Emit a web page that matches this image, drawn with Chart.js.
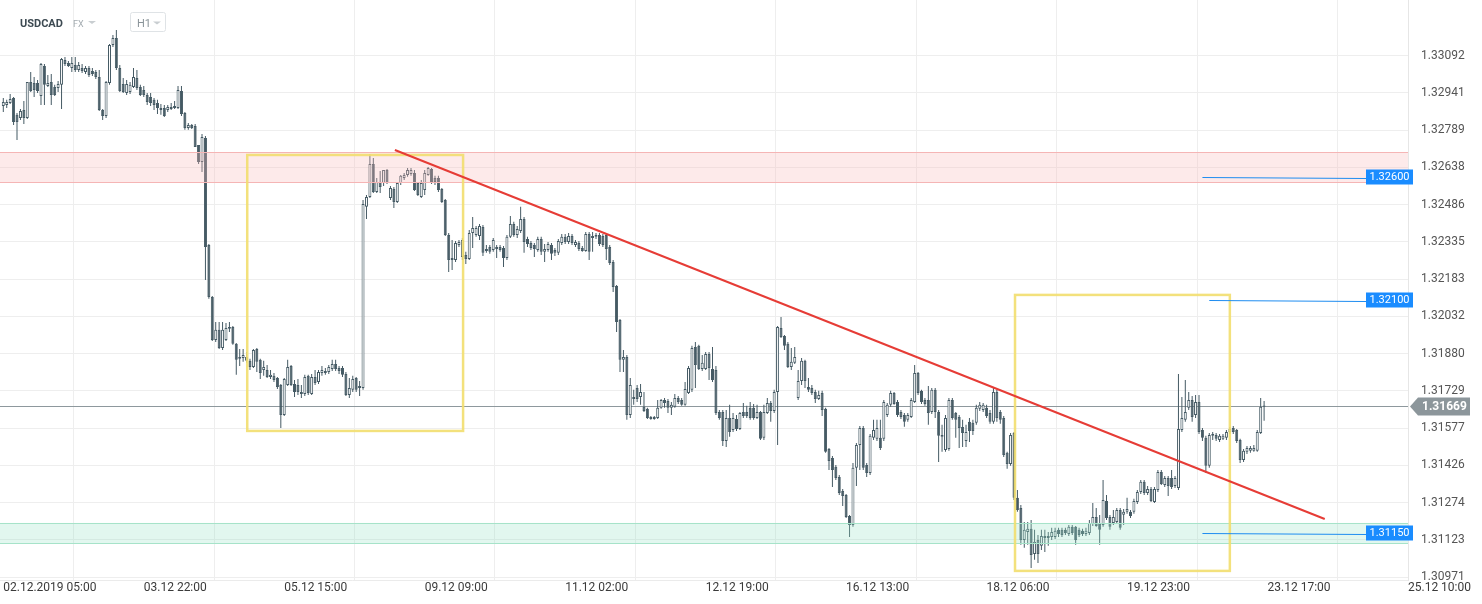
<!DOCTYPE html>
<html><head><meta charset="utf-8">
<script src="https://cdn.jsdelivr.net/npm/chart.js@4.4.0/dist/chart.umd.min.js"></script>
<style>html,body{margin:0;padding:0;background:#fff;}#wrap{width:1482px;height:604px;position:relative;}</style>
</head><body><div id="wrap"><canvas id="c" width="1482" height="604"></canvas></div>
<script>
// ---- data ----
const xTickIndex = [0,41,82,123,164,205,246,287,328,369,410];
const xTickLabels = ['02.12.2019 05:00','03.12 22:00','05.12 15:00','09.12 09:00','11.12 02:00','12.12 19:00','16.12 13:00','18.12 06:00','19.12 23:00','23.12 17:00','25.12 10:00'];
const yTickValues = [1.30971,1.31123,1.31274,1.31426,1.31577,1.31729,1.31880,1.32032,1.32183,1.32335,1.32486,1.32638,1.32789,1.32941,1.33092];

const openP = [
1.32887,1.32891,1.32899,1.32920,1.32851,1.32838,1.32871,1.32838,1.32985,1.32981,
1.32981,1.32928,1.33050,1.32968,1.32985,1.32964,1.32960,1.32973,1.33074,1.33062,
1.33042,1.33054,1.33033,1.33042,1.33025,1.33042,1.33029,1.33025,1.33005,1.32871,
1.32846,1.32981,1.33135,1.33164,1.33042,1.32977,1.32940,1.32944,1.32964,1.33001,
1.32964,1.32952,1.32932,1.32924,1.32912,1.32899,1.32871,1.32879,1.32871,1.32875,
1.32879,1.32879,1.32948,1.32859,1.32798,1.32810,1.32806,1.32729,1.32659,1.32757,
1.32322,1.32111,1.31936,1.31977,1.31903,1.31936,1.31981,1.31989,1.31920,1.31859,
1.31863,1.31867,1.31851,1.31826,1.31899,1.31855,1.31814,1.31814,1.31785,1.31790,
1.31781,1.31753,1.31631,1.31753,1.31830,1.31757,1.31753,1.31724,1.31716,1.31790,
1.31716,1.31785,1.31765,1.31802,1.31802,1.31806,1.31818,1.31838,1.31822,1.31822,
1.31798,1.31712,1.31733,1.31781,1.31741,1.31741,1.32477,1.32517,1.32651,1.32537,
1.32578,1.32574,1.32627,1.32513,1.32550,1.32497,1.32574,1.32594,1.32607,1.32611,
1.32615,1.32574,1.32517,1.32546,1.32607,1.32631,1.32594,1.32594,1.32550,1.32505,
1.32363,1.32261,1.32261,1.32322,1.32273,1.32281,1.32265,1.32371,1.32363,1.32359,
1.32395,1.32298,1.32314,1.32302,1.32314,1.32314,1.32310,1.32269,1.32355,1.32407,
1.32363,1.32379,1.32428,1.32346,1.32330,1.32322,1.32302,1.32346,1.32294,1.32302,
1.32322,1.32302,1.32290,1.32330,1.32355,1.32334,1.32359,1.32322,1.32330,1.32310,
1.32298,1.32367,1.32350,1.32355,1.32363,1.32359,1.32363,1.32314,1.32253,1.32155,
1.32017,1.31855,1.31867,1.31631,1.31696,1.31741,1.31704,1.31664,1.31656,1.31623,
1.31615,1.31619,1.31660,1.31692,1.31688,1.31660,1.31664,1.31700,1.31692,1.31672,
1.31720,1.31733,1.31907,1.31912,1.31818,1.31818,1.31879,1.31818,1.31814,1.31643,
1.31643,1.31525,1.31619,1.31570,1.31615,1.31574,1.31643,1.31643,1.31660,1.31660,
1.31619,1.31643,1.31538,1.31639,1.31680,1.31647,1.31724,1.31985,1.31952,1.31920,
1.31826,1.31843,1.31700,1.31769,1.31851,1.31745,1.31741,1.31724,1.31696,1.31720,
1.31656,1.31493,1.31456,1.31420,1.31379,1.31322,1.31306,1.31220,1.31184,1.31416,
1.31509,1.31578,1.31428,1.31395,1.31538,1.31534,1.31538,1.31534,1.31631,1.31672,
1.31720,1.31684,1.31643,1.31631,1.31611,1.31623,1.31684,1.31802,1.31729,1.31692,
1.31692,1.31643,1.31733,1.31643,1.31550,1.31489,1.31493,1.31692,1.31639,1.31623,
1.31582,1.31525,1.31603,1.31599,1.31599,1.31656,1.31651,1.31660,1.31639,1.31603,
1.31724,1.31643,1.31619,1.31477,1.31432,1.31558,1.31294,1.31253,1.31123,1.31155,
1.31168,1.31066,1.31123,1.31099,1.31131,1.31131,1.31135,1.31135,1.31164,1.31164,
1.31164,1.31147,1.31176,1.31176,1.31164,1.31160,1.31147,1.31151,1.31188,1.31216,
1.31188,1.31184,1.31281,1.31216,1.31192,1.31196,1.31245,1.31225,1.31237,1.31237,
1.31237,1.31277,1.31318,1.31359,1.31314,1.31330,1.31277,1.31326,1.31399,1.31346,
1.31375,1.31375,1.31342,1.31334,1.31570,1.31611,1.31660,1.31692,1.31631,1.31684,
1.31570,1.31538,1.31424,1.31546,1.31550,1.31529,1.31534,1.31538,1.31562,1.31578,
1.31570,1.31529,1.31448,1.31481,1.31485,1.31485,1.31485,1.31558,1.31664];

const highP = [
1.32920,1.32912,1.32936,1.32924,1.32859,1.32875,1.32907,1.32985,1.33025,1.33005,
1.32993,1.33062,1.33058,1.33013,1.33017,1.32973,1.32989,1.33082,1.33086,1.33070,
1.33086,1.33086,1.33066,1.33058,1.33050,1.33050,1.33042,1.33033,1.33033,1.32875,
1.32989,1.33139,1.33176,1.33196,1.33054,1.33001,1.32993,1.32985,1.33042,1.33033,
1.32973,1.32968,1.32940,1.32940,1.32920,1.32912,1.32895,1.32891,1.32891,1.32899,
1.32907,1.32968,1.32968,1.32863,1.32818,1.32814,1.32814,1.32729,1.32773,1.32765,
1.32326,1.32115,1.32009,1.32009,1.32009,1.32005,1.32009,1.31993,1.31924,1.31899,
1.31899,1.31887,1.31859,1.31899,1.31903,1.31859,1.31851,1.31834,1.31814,1.31802,
1.31785,1.31757,1.31781,1.31855,1.31834,1.31773,1.31777,1.31753,1.31794,1.31794,
1.31798,1.31814,1.31814,1.31830,1.31822,1.31834,1.31855,1.31855,1.31830,1.31830,
1.31806,1.31781,1.31790,1.31785,1.31769,1.32505,1.32525,1.32692,1.32676,1.32594,
1.32623,1.32627,1.32631,1.32562,1.32558,1.32578,1.32607,1.32615,1.32635,1.32635,
1.32627,1.32578,1.32586,1.32627,1.32639,1.32635,1.32603,1.32603,1.32554,1.32509,
1.32371,1.32342,1.32338,1.32342,1.32350,1.32294,1.32383,1.32436,1.32399,1.32407,
1.32403,1.32322,1.32322,1.32350,1.32322,1.32322,1.32318,1.32363,1.32440,1.32416,
1.32399,1.32477,1.32436,1.32355,1.32338,1.32330,1.32355,1.32355,1.32326,1.32334,
1.32330,1.32310,1.32346,1.32367,1.32367,1.32371,1.32367,1.32342,1.32338,1.32318,
1.32375,1.32375,1.32375,1.32371,1.32371,1.32367,1.32371,1.32322,1.32261,1.32159,
1.32021,1.31895,1.31875,1.31781,1.31733,1.31753,1.31757,1.31724,1.31660,1.31627,
1.31627,1.31692,1.31696,1.31700,1.31696,1.31684,1.31716,1.31708,1.31700,1.31765,
1.31830,1.31912,1.31928,1.31916,1.31875,1.31887,1.31887,1.31907,1.31830,1.31651,
1.31651,1.31651,1.31672,1.31639,1.31631,1.31643,1.31680,1.31668,1.31684,1.31676,
1.31672,1.31647,1.31672,1.31700,1.31688,1.31733,1.31993,1.32029,1.31956,1.31928,
1.31903,1.31907,1.31814,1.31863,1.31855,1.31781,1.31753,1.31733,1.31729,1.31729,
1.31660,1.31497,1.31464,1.31428,1.31387,1.31330,1.31310,1.31224,1.31436,1.31517,
1.31586,1.31586,1.31436,1.31554,1.31611,1.31611,1.31611,1.31692,1.31680,1.31729,
1.31724,1.31692,1.31651,1.31639,1.31639,1.31700,1.31834,1.31806,1.31733,1.31700,
1.31749,1.31741,1.31741,1.31651,1.31591,1.31631,1.31700,1.31700,1.31643,1.31631,
1.31611,1.31591,1.31619,1.31611,1.31672,1.31684,1.31680,1.31672,1.31651,1.31741,
1.31733,1.31651,1.31627,1.31481,1.31558,1.31562,1.31326,1.31265,1.31196,1.31196,
1.31204,1.31164,1.31143,1.31164,1.31164,1.31155,1.31172,1.31172,1.31172,1.31172,
1.31172,1.31184,1.31184,1.31180,1.31172,1.31168,1.31172,1.31204,1.31273,1.31253,
1.31224,1.31367,1.31306,1.31224,1.31245,1.31253,1.31253,1.31249,1.31294,1.31245,
1.31290,1.31326,1.31367,1.31367,1.31342,1.31338,1.31338,1.31407,1.31407,1.31383,
1.31383,1.31407,1.31383,1.31798,1.31704,1.31773,1.31724,1.31708,1.31712,1.31712,
1.31578,1.31546,1.31558,1.31562,1.31558,1.31554,1.31554,1.31570,1.31582,1.31586,
1.31574,1.31534,1.31493,1.31505,1.31505,1.31509,1.31570,1.31700,1.31688];

const lowP = [
1.32863,1.32879,1.32895,1.32810,1.32749,1.32830,1.32814,1.32834,1.32944,1.32924,
1.32940,1.32891,1.32891,1.32964,1.32891,1.32928,1.32944,1.32875,1.33050,1.33046,
1.33025,1.33025,1.33025,1.33021,1.33017,1.33005,1.33009,1.32997,1.32867,1.32830,
1.32838,1.32973,1.33127,1.33033,1.32944,1.32940,1.32932,1.32936,1.32960,1.32952,
1.32928,1.32924,1.32891,1.32887,1.32871,1.32855,1.32851,1.32842,1.32863,1.32871,
1.32875,1.32875,1.32846,1.32790,1.32790,1.32794,1.32720,1.32651,1.32619,1.32180,
1.32103,1.31932,1.31928,1.31899,1.31895,1.31932,1.31968,1.31916,1.31794,1.31830,
1.31847,1.31843,1.31814,1.31822,1.31806,1.31777,1.31790,1.31781,1.31777,1.31765,
1.31737,1.31578,1.31627,1.31749,1.31749,1.31704,1.31712,1.31700,1.31708,1.31712,
1.31712,1.31753,1.31757,1.31790,1.31794,1.31798,1.31810,1.31810,1.31798,1.31785,
1.31708,1.31700,1.31724,1.31724,1.31708,1.31733,1.32428,1.32513,1.32533,1.32533,
1.32533,1.32562,1.32570,1.32505,1.32472,1.32493,1.32566,1.32586,1.32599,1.32603,
1.32541,1.32521,1.32513,1.32525,1.32603,1.32570,1.32566,1.32537,1.32493,1.32359,
1.32212,1.32220,1.32253,1.32314,1.32261,1.32245,1.32261,1.32310,1.32355,1.32342,
1.32277,1.32290,1.32286,1.32294,1.32269,1.32294,1.32233,1.32261,1.32350,1.32355,
1.32350,1.32371,1.32290,1.32314,1.32302,1.32273,1.32294,1.32281,1.32253,1.32294,
1.32261,1.32277,1.32281,1.32322,1.32326,1.32326,1.32322,1.32314,1.32298,1.32294,
1.32294,1.32261,1.32294,1.32346,1.32318,1.32314,1.32261,1.32241,1.32131,1.31968,
1.31806,1.31806,1.31611,1.31619,1.31672,1.31684,1.31672,1.31643,1.31615,1.31611,
1.31611,1.31615,1.31656,1.31660,1.31639,1.31631,1.31660,1.31676,1.31668,1.31668,
1.31716,1.31724,1.31741,1.31814,1.31810,1.31814,1.31773,1.31765,1.31631,1.31611,
1.31505,1.31501,1.31542,1.31562,1.31566,1.31570,1.31619,1.31619,1.31611,1.31611,
1.31615,1.31529,1.31529,1.31635,1.31603,1.31639,1.31509,1.31944,1.31895,1.31822,
1.31814,1.31838,1.31692,1.31753,1.31741,1.31724,1.31712,1.31680,1.31692,1.31627,
1.31477,1.31407,1.31338,1.31367,1.31306,1.31261,1.31212,1.31135,1.31176,1.31342,
1.31407,1.31407,1.31379,1.31387,1.31529,1.31525,1.31489,1.31525,1.31623,1.31664,
1.31672,1.31623,1.31615,1.31583,1.31603,1.31619,1.31680,1.31712,1.31676,1.31668,
1.31591,1.31635,1.31619,1.31440,1.31481,1.31481,1.31485,1.31611,1.31538,1.31497,
1.31501,1.31501,1.31521,1.31550,1.31591,1.31647,1.31643,1.31619,1.31595,1.31595,
1.31603,1.31595,1.31460,1.31412,1.31424,1.31285,1.31237,1.31103,1.31091,1.31103,
1.31009,1.31042,1.31029,1.31082,1.31074,1.31099,1.31123,1.31127,1.31135,1.31135,
1.31143,1.31139,1.31143,1.31103,1.31135,1.31139,1.31139,1.31143,1.31180,1.31176,
1.31103,1.31176,1.31204,1.31164,1.31184,1.31188,1.31164,1.31184,1.31229,1.31212,
1.31229,1.31269,1.31310,1.31306,1.31306,1.31277,1.31273,1.31318,1.31346,1.31338,
1.31302,1.31330,1.31334,1.31326,1.31562,1.31603,1.31651,1.31603,1.31619,1.31554,
1.31525,1.31395,1.31416,1.31529,1.31525,1.31521,1.31529,1.31529,1.31554,1.31554,
1.31517,1.31436,1.31440,1.31472,1.31477,1.31481,1.31481,1.31554,1.31607];

const closeP = [
1.32903,1.32903,1.32916,1.32822,1.32822,1.32867,1.32838,1.32985,1.32948,1.32952,
1.32948,1.33058,1.32973,1.32981,1.32932,1.32932,1.32977,1.33078,1.33058,1.33050,
1.33062,1.33033,1.33054,1.33029,1.33042,1.33013,1.33017,1.33005,1.32871,1.32846,
1.32985,1.33135,1.33164,1.33042,1.32948,1.32944,1.32977,1.32973,1.33005,1.32960,
1.32932,1.32932,1.32903,1.32899,1.32891,1.32879,1.32879,1.32846,1.32883,1.32883,
1.32887,1.32952,1.32855,1.32798,1.32810,1.32798,1.32720,1.32659,1.32761,1.32314,
1.32111,1.31936,1.31977,1.31903,1.31977,1.31985,1.31989,1.31920,1.31855,1.31867,
1.31875,1.31851,1.31826,1.31895,1.31847,1.31802,1.31826,1.31785,1.31794,1.31773,
1.31745,1.31631,1.31777,1.31826,1.31753,1.31724,1.31724,1.31716,1.31785,1.31720,
1.31785,1.31761,1.31806,1.31814,1.31810,1.31826,1.31838,1.31818,1.31810,1.31794,
1.31712,1.31741,1.31777,1.31733,1.31749,1.32489,1.32517,1.32651,1.32537,1.32578,
1.32558,1.32627,1.32574,1.32554,1.32497,1.32574,1.32603,1.32607,1.32627,1.32627,
1.32546,1.32525,1.32574,1.32615,1.32635,1.32578,1.32578,1.32546,1.32497,1.32363,
1.32261,1.32269,1.32330,1.32334,1.32342,1.32265,1.32371,1.32391,1.32391,1.32399,
1.32290,1.32306,1.32294,1.32342,1.32306,1.32302,1.32269,1.32355,1.32407,1.32363,
1.32387,1.32428,1.32334,1.32326,1.32310,1.32306,1.32346,1.32294,1.32306,1.32326,
1.32286,1.32290,1.32338,1.32355,1.32334,1.32359,1.32330,1.32334,1.32306,1.32298,
1.32367,1.32294,1.32359,1.32363,1.32326,1.32322,1.32306,1.32249,1.32151,1.32009,
1.31855,1.31867,1.31631,1.31753,1.31704,1.31696,1.31724,1.31647,1.31619,1.31615,
1.31623,1.31660,1.31692,1.31680,1.31660,1.31672,1.31700,1.31684,1.31672,1.31737,
1.31822,1.31903,1.31834,1.31818,1.31843,1.31879,1.31822,1.31773,1.31639,1.31619,
1.31525,1.31619,1.31562,1.31619,1.31574,1.31639,1.31627,1.31627,1.31619,1.31619,
1.31643,1.31534,1.31643,1.31680,1.31647,1.31724,1.31989,1.31948,1.31912,1.31826,
1.31847,1.31867,1.31769,1.31851,1.31769,1.31733,1.31720,1.31696,1.31712,1.31651,
1.31481,1.31444,1.31407,1.31375,1.31314,1.31302,1.31216,1.31184,1.31416,1.31509,
1.31578,1.31416,1.31395,1.31546,1.31570,1.31578,1.31497,1.31684,1.31672,1.31720,
1.31676,1.31631,1.31623,1.31603,1.31631,1.31692,1.31802,1.31720,1.31684,1.31676,
1.31639,1.31733,1.31643,1.31546,1.31542,1.31619,1.31692,1.31619,1.31611,1.31578,
1.31558,1.31562,1.31566,1.31566,1.31660,1.31672,1.31672,1.31627,1.31603,1.31724,
1.31619,1.31611,1.31468,1.31432,1.31550,1.31294,1.31245,1.31123,1.31164,1.31168,
1.31062,1.31115,1.31066,1.31139,1.31139,1.31139,1.31155,1.31160,1.31147,1.31143,
1.31151,1.31176,1.31151,1.31123,1.31143,1.31147,1.31160,1.31192,1.31216,1.31180,
1.31164,1.31285,1.31212,1.31176,1.31216,1.31245,1.31172,1.31237,1.31249,1.31220,
1.31281,1.31318,1.31359,1.31314,1.31330,1.31281,1.31330,1.31399,1.31350,1.31375,
1.31342,1.31338,1.31375,1.31574,1.31619,1.31643,1.31692,1.31623,1.31684,1.31562,
1.31538,1.31424,1.31550,1.31554,1.31534,1.31546,1.31546,1.31562,1.31574,1.31562,
1.31525,1.31448,1.31485,1.31497,1.31497,1.31497,1.31562,1.31664,1.31669];

const lastPrice = 1.31669;
const resistanceZone = [1.32577, 1.32700];
const supportZone = [1.31110, 1.31192];
const boxLeft = [71.2, 134.2, 1.32688, 1.31566];   // [fromIdx, toIdx, topPrice, bottomPrice]
const boxRight = [295.3, 358.0, 1.32119, 1.30997];
const trendLine = [114.3, 1.32708, 385.7, 1.31208]; // [idx, price, idx, price]
const alertPrices = [1.32600, 1.32100, 1.31150];
const alertStartIdx = [350, 352, 350];

// ---- chart ----
Chart.defaults.font.family = 'Roboto, "Noto Sans", sans-serif';
const DARK = '#455a64';
const idx = openP.map((_, i) => i);
const bodies = idx.map(i => ({x: i, y: [openP[i], closeP[i]]}));
const wicks = idx.map(i => ({x: i, y: [lowP[i], highP[i]]}));

const overlay = {
  id: 'overlay',
  beforeDatasetsDraw(chart) {
    const {ctx, chartArea: a, scales: {y}} = chart;
    const py = Math.round(y.getPixelForValue(lastPrice)) + 0.5;
    ctx.save();
    ctx.strokeStyle = '#8e989d'; ctx.lineWidth = 1;
    ctx.beginPath(); ctx.moveTo(a.left, py); ctx.lineTo(a.right, py); ctx.stroke();
    ctx.restore();
  },
  afterDatasetsDraw(chart) {
    const {ctx, chartArea: a, scales: {x, y}} = chart;
    ctx.save();
    ctx.beginPath(); ctx.rect(a.left, a.top, a.right - a.left, a.bottom - a.top); ctx.clip();
    const zone = (z, fill, line) => {
      const y1 = y.getPixelForValue(z[1]), y0 = y.getPixelForValue(z[0]);
      ctx.fillStyle = fill; ctx.fillRect(a.left, y1, a.right - a.left, y0 - y1);
      ctx.strokeStyle = line; ctx.lineWidth = 1;
      ctx.beginPath();
      ctx.moveTo(a.left, Math.round(y1) + 0.5); ctx.lineTo(a.right, Math.round(y1) + 0.5);
      ctx.moveTo(a.left, Math.round(y0) + 0.5); ctx.lineTo(a.right, Math.round(y0) + 0.5);
      ctx.stroke();
    };
    zone(resistanceZone, 'rgba(250,185,185,0.30)', '#f5b5b5');
    zone(supportZone, 'rgba(150,228,198,0.28)', '#a6e3c9');
    const box = b => {
      const x0 = x.getPixelForValue(b[0]), x1 = x.getPixelForValue(b[1]);
      const y0 = y.getPixelForValue(b[2]), y1 = y.getPixelForValue(b[3]);
      ctx.strokeStyle = 'rgba(242,222,110,0.9)'; ctx.lineWidth = 2.5;
      ctx.strokeRect(x0, y0, x1 - x0, y1 - y0);
    };
    box(boxLeft); box(boxRight);
    ctx.strokeStyle = '#e63c36'; ctx.lineWidth = 2;
    ctx.beginPath();
    ctx.moveTo(x.getPixelForValue(trendLine[0]), y.getPixelForValue(trendLine[1]));
    ctx.lineTo(x.getPixelForValue(trendLine[2]), y.getPixelForValue(trendLine[3]));
    ctx.stroke();
    ctx.restore();
    // alert lines + labels
    ctx.save();
    alertPrices.forEach((p, k) => {
      const py = Math.round(y.getPixelForValue(p)) + 0.5;
      const lx = a.right - 42;
      ctx.strokeStyle = '#1e8cf0'; ctx.lineWidth = 1;
      ctx.beginPath(); ctx.moveTo(x.getPixelForValue(alertStartIdx[k]), py); ctx.lineTo(lx, py + 1); ctx.stroke();
      ctx.fillStyle = '#1a8cff';
      ctx.fillRect(lx, py - 8, 47, 15);
      ctx.fillStyle = '#ffffff'; ctx.font = '11px Roboto'; ctx.textAlign = 'center'; ctx.textBaseline = 'middle';
      ctx.fillText(p.toFixed(5), lx + 23.5, py);
    });
    ctx.restore();
  },
  afterDraw(chart) {
    const {ctx, chartArea: a, scales: {y}} = chart;
    ctx.save();
    // current price tag
    const py = y.getPixelForValue(lastPrice) + 1;
    const r = a.right;
    ctx.fillStyle = '#8c969b';
    ctx.beginPath();
    ctx.moveTo(r + 2, py); ctx.lineTo(r + 10, py - 9); ctx.lineTo(r + 62, py - 9);
    ctx.lineTo(r + 62, py + 9); ctx.lineTo(r + 10, py + 9); ctx.closePath(); ctx.fill();
    ctx.fillStyle = '#ffffff'; ctx.font = 'bold 12px Roboto'; ctx.textAlign = 'left'; ctx.textBaseline = 'middle';
    ctx.fillText(lastPrice.toFixed(5), r + 14, py + 0.5);
    // header
    ctx.textBaseline = 'alphabetic';
    ctx.fillStyle = '#3d4a52'; ctx.font = 'bold 11px Roboto';
    ctx.fillText('USDCAD', 20, 27);
    ctx.fillStyle = '#a3abb0'; ctx.font = '9px Roboto';
    ctx.fillText('FX', 73, 26.5);
    const tri = (tx, ty) => { ctx.beginPath(); ctx.moveTo(tx, ty); ctx.lineTo(tx + 8, ty); ctx.lineTo(tx + 4, ty + 3); ctx.closePath(); ctx.fill(); };
    ctx.fillStyle = '#c9ced1'; tri(88, 21);
    ctx.fillStyle = '#ffffff'; ctx.strokeStyle = '#dfe3e6'; ctx.lineWidth = 1;
    ctx.beginPath(); ctx.roundRect(130.5, 12.5, 35, 19, 2); ctx.fill(); ctx.stroke();
    ctx.fillStyle = '#8a9499'; ctx.font = '11px Roboto';
    ctx.fillText('H1', 137, 26.5);
    ctx.fillStyle = '#c9ced1'; tri(153, 21.5);
    ctx.restore();
  }
};

new Chart(document.getElementById('c'), {
  type: 'bar',
  data: { datasets: [
    { label: 'body', data: bodies, order: 0, grouped: false, barThickness: 3, borderWidth: 1,
      borderColor: DARK, borderSkipped: false, minBarLength: 1, inflateAmount: 0,
      backgroundColor: c => (closeP[c.dataIndex] >= openP[c.dataIndex] ? '#ffffff' : DARK) },
    { label: 'wick', data: wicks, order: 1, grouped: false, barThickness: 1, borderWidth: 0,
      inflateAmount: 0, backgroundColor: DARK }
  ]},
  options: {
    responsive: false, animation: false, devicePixelRatio: 1,
    layout: { padding: 0 },
    plugins: { legend: { display: false }, tooltip: { enabled: false } },
    scales: {
      x: {
        type: 'linear', min: -0.963, max: 410, offset: false,
        afterBuildTicks: s => { s.ticks = xTickIndex.map(v => ({ value: v })); },
        afterFit: s => { s.height = 24; s.paddingLeft = 0; s.paddingRight = 0; },
        ticks: { autoSkip: false, maxRotation: 0, minRotation: 0, align: 'start', padding: 1,
          color: '#3a3a3a', font: { size: 12 },
          callback: v => { const k = xTickIndex.indexOf(v); return k >= 0 ? xTickLabels[k] : ''; } },
        grid: { color: '#eeeeee', drawTicks: false },
        border: { display: true, color: '#ebebeb' }
      },
      y: {
        type: 'linear', position: 'right', min: 1.30960, max: 1.33318,
        afterBuildTicks: s => { s.ticks = yTickValues.map(v => ({ value: v })); },
        afterFit: s => { s.width = 74; s.paddingTop = 0; s.paddingBottom = 0; },
        ticks: { padding: 13, color: '#555555', font: { size: 12 }, callback: v => v.toFixed(5) },
        grid: { color: '#eeeeee', drawTicks: false },
        border: { display: true, color: '#e6e6e6' }
      }
    }
  },
  plugins: [overlay]
});
</script></body></html>
